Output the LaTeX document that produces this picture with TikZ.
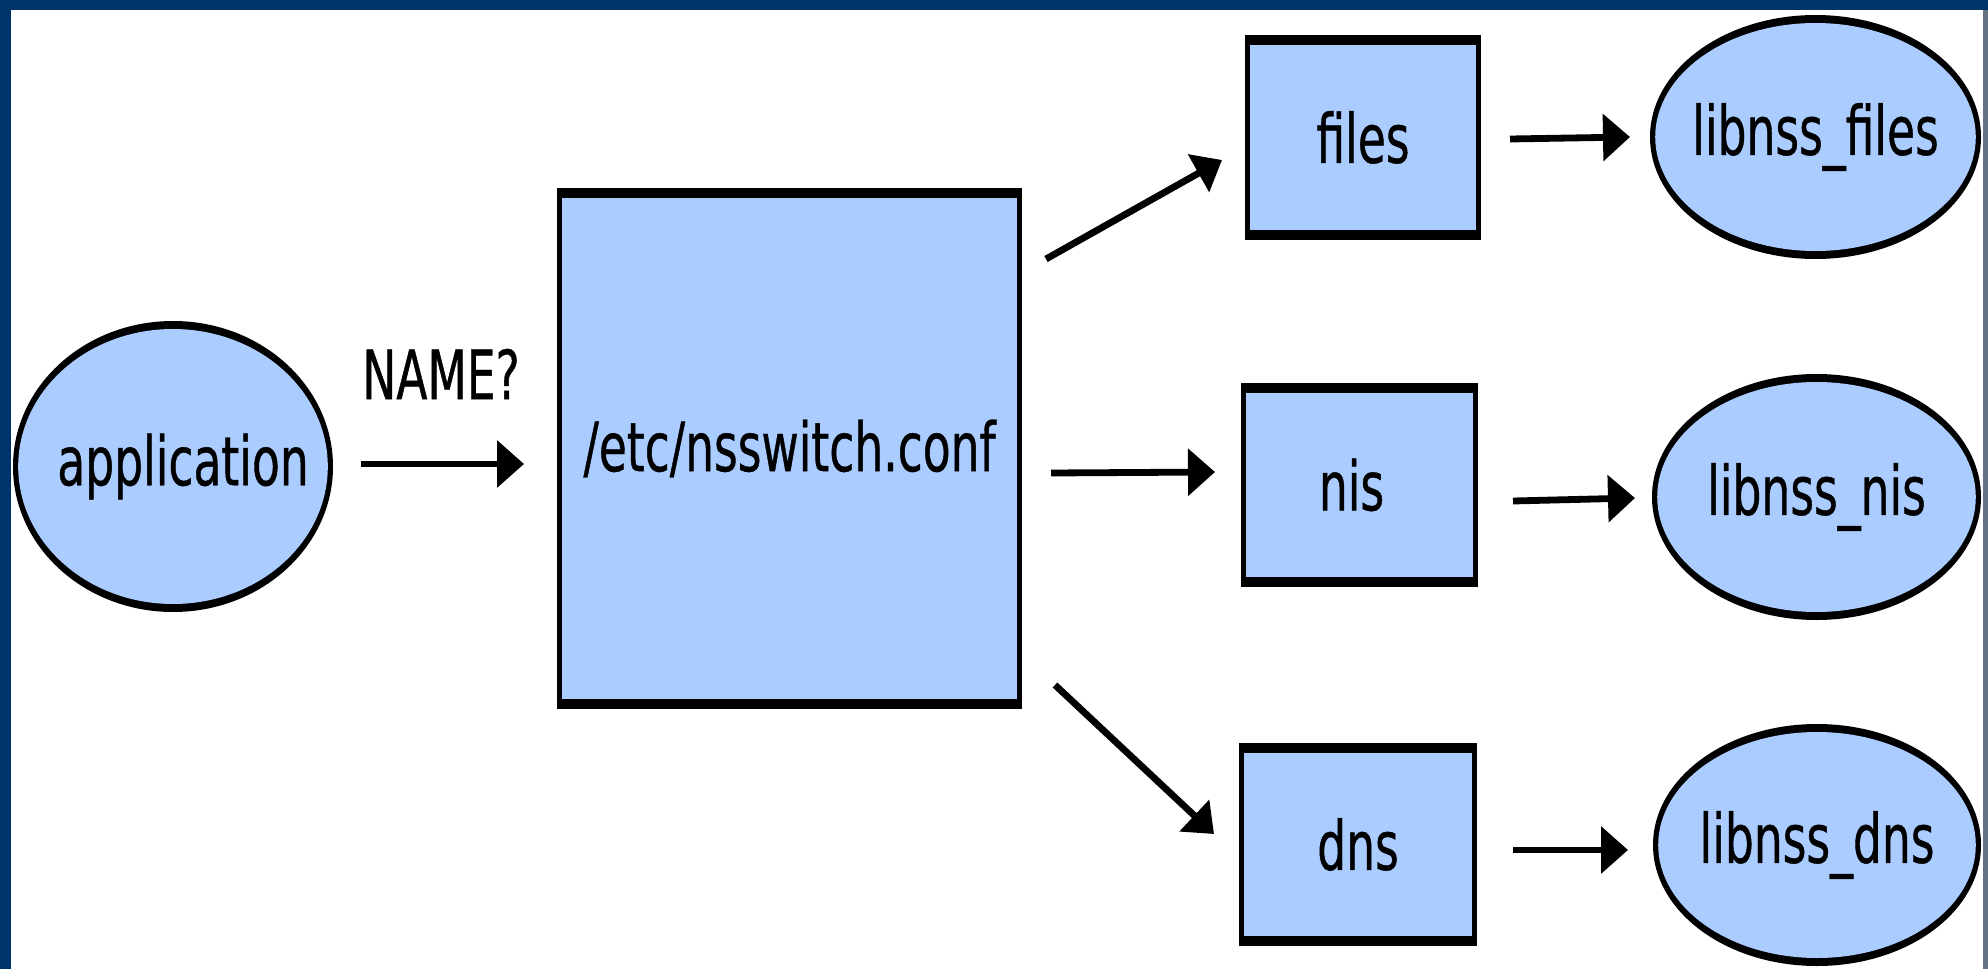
\documentclass[tikz,border=0pt]{standalone}
\usepackage{fontspec}
\setmainfont{DejaVu Sans}[FakeStretch=0.67,FakeBold=0.6]
\usetikzlibrary{arrows.meta,shapes.geometric,calc}
\definecolor{frameblue}{RGB}{0,51,104}
\definecolor{edgegray}{RGB}{100,114,134}
\definecolor{boxfill}{RGB}{170,204,255}
\tikzset{
  txt/.style={font=\fontsize{34}{40}\selectfont},
  box/.style={txt, fill=black, rectangle, inner sep=0pt,
    path picture={\fill[boxfill] ([xshift=2.5pt,yshift=-5pt]path picture bounding box.north west)
      rectangle ([xshift=-2.5pt,yshift=5pt]path picture bounding box.south east);}},
  oval/.style={txt, fill=black, ellipse, inner sep=0pt,
    path picture={\fill[boxfill] let \p1=(path picture bounding box.north east),
      \p2=(path picture bounding box.center) in
      (\p2) ellipse [x radius={\x1-\x2-2.6pt}, y radius={\y1-\y2-4pt}];}},
  arr/.style={line width=3.4pt, -{Triangle[length=13.5pt,width=23pt]}},
  darr/.style={line width=3.4pt, -{Triangle[length=13.5pt,width=21pt]}},
  lbl/.style={txt, inner sep=0pt}
}
\begin{document}
\begin{tikzpicture}[x=0.5pt,y=-0.5pt]
\useasboundingbox (0,0) rectangle (1988,969);
\fill[white] (0,0) rectangle (1988,969);
\fill[frameblue] (0,0) rectangle (1988,10);
\fill[frameblue] (0,0) rectangle (11,969);
\fill[edgegray] (1983,10) rectangle (1988,969);

\node[oval, minimum width=160pt, minimum height=145.5pt] (app) at (173,466.5) {\makebox[0pt]{\hspace{10pt}application}};
\node[box, minimum width=232.5pt, minimum height=260.5pt] (conf) at (789.5,448.5) {/etc/nsswitch.conf};
\node[box, minimum width=118pt, minimum height=102.5pt] (files) at (1363,137.5) {files};
\node[box, minimum width=118.5pt, minimum height=102pt] (nis) at (1359.5,485) {\makebox[0pt]{nis\hspace{8pt}}};
\node[box, minimum width=119pt, minimum height=101.5pt] (dns) at (1358,844.5) {dns};
\node[oval, minimum width=165.5pt, minimum height=122pt] (lfiles) at (1815.5,137) {\makebox[0pt]{libnss\_files}};
\node[oval, minimum width=164.5pt, minimum height=123pt] (lnis) at (1816.5,497) {\makebox[0pt]{libnss\_nis}};
\node[oval, minimum width=164pt, minimum height=121pt] (ldns) at (1817,845) {\makebox[0pt]{libnss\_dns}};

\node[lbl] (name) at (441,374) {NAME?};

\coordinate (a1) at (361,464);
\coordinate (a2) at (524,464);
\coordinate (b1) at (1046,259);
\coordinate (b2) at (1222,160);
\coordinate (c1) at (1051,473);
\coordinate (c2) at (1215,472);
\coordinate (d1) at (1055,685);
\coordinate (d2) at (1214,834);
\coordinate (e1) at (1510,139);
\coordinate (e2) at (1630,137);
\coordinate (f1) at (1513,501);
\coordinate (f2) at (1635,498);
\coordinate (g1) at (1513,850);
\coordinate (g2) at (1628,850);

\draw[arr] (a1) -- (a2);
\draw[darr] (b1) -- (b2);
\draw[arr] (c1) -- (c2);
\draw[darr] (d1) -- (d2);
\draw[arr] (e1) -- (e2);
\draw[arr] (f1) -- (f2);
\draw[arr] (g1) -- (g2);
\end{tikzpicture}
\end{document}
